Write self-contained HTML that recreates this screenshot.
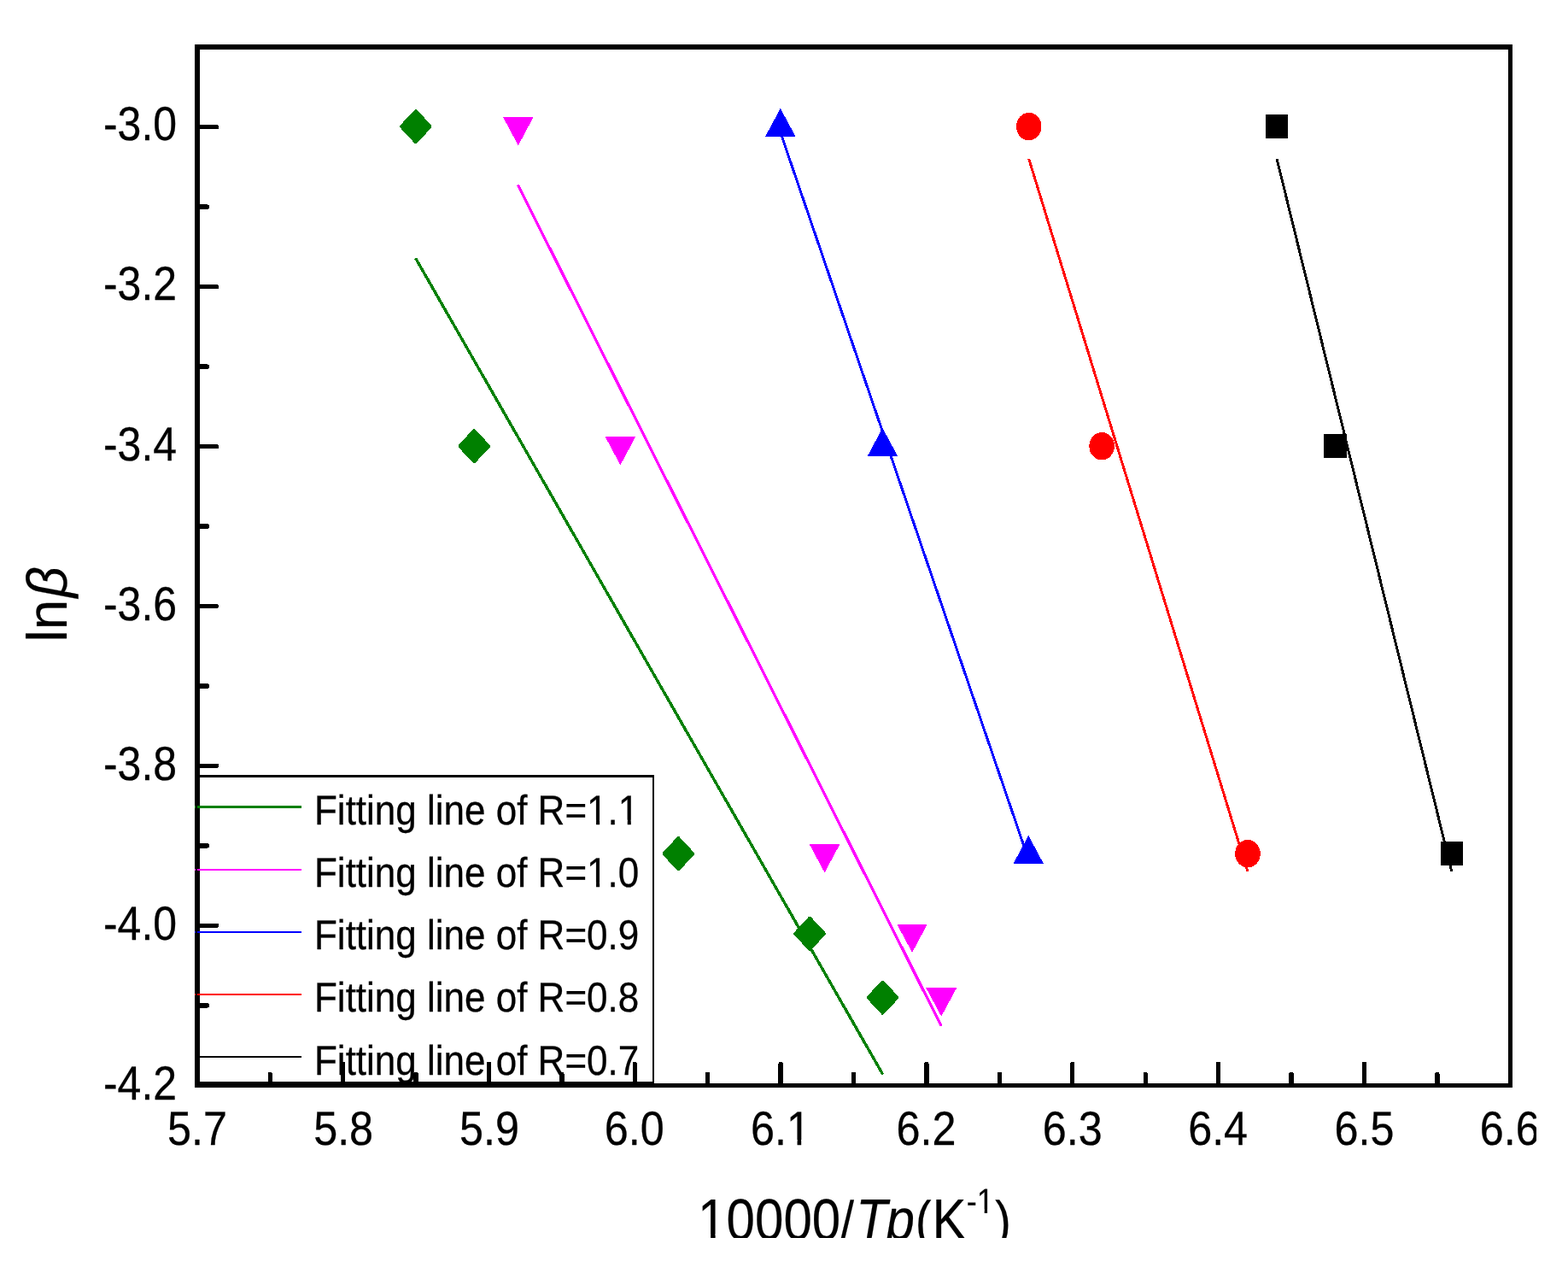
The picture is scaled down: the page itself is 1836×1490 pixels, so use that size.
<!DOCTYPE html>
<html lang="en"><head><meta charset="utf-8"><title>lnβ versus 10000/Tp</title>
<style>html,body{margin:0;padding:0;background:#fff}body{width:1836px;height:1490px;overflow:hidden}svg{display:block}text{font-family:"Liberation Sans",sans-serif;fill:#000;stroke:#000;stroke-linejoin:round;text-rendering:geometricPrecision}</style>
</head><body>
<svg width="1836" height="1490" viewBox="0 0 1836 1490">
<rect width="1836" height="1490" fill="#ffffff"/>
<g fill="none" stroke-linecap="butt" shape-rendering="crispEdges">
<line x1="486.70" y1="302.30" x2="1033.70" y2="1257.60" stroke="#008000" stroke-width="3.4"/>
<line x1="606.40" y1="216.50" x2="1102.20" y2="1200.90" stroke="#ff00ff" stroke-width="3.3"/>
<line x1="911.50" y1="148.10" x2="1202.00" y2="999.20" stroke="#0000ff" stroke-width="2.95"/>
<line x1="1204.70" y1="186.00" x2="1460.80" y2="1019.80" stroke="#ff0000" stroke-width="2.95"/>
<line x1="1495.10" y1="186.00" x2="1699.80" y2="1019.80" stroke="#000000" stroke-width="2.95"/>
</g>
<g shape-rendering="crispEdges">
<rect x="1481.99" y="134.00" width="26.3" height="28.2" fill="#000000"/>
<rect x="1550.32" y="508.12" width="26.3" height="28.2" fill="#000000"/>
<rect x="1686.99" y="985.12" width="26.3" height="28.2" fill="#000000"/>
<ellipse cx="1204.73" cy="148.10" rx="14.8" ry="16.2" fill="#ff0000"/>
<ellipse cx="1290.15" cy="522.22" rx="14.8" ry="16.2" fill="#ff0000"/>
<ellipse cx="1460.98" cy="999.22" rx="14.8" ry="16.2" fill="#ff0000"/>
<polygon points="913.82,126.75 931.67,160.05 895.97,160.05" fill="#0000ff"/>
<polygon points="1033.40,500.87 1051.25,534.17 1015.55,534.17" fill="#0000ff"/>
<polygon points="1204.23,977.87 1222.08,1011.17 1186.38,1011.17" fill="#0000ff"/>
<polygon points="606.83,170.30 624.68,137.00 588.98,137.00" fill="#ff00ff"/>
<polygon points="726.41,544.42 744.26,511.12 708.56,511.12" fill="#ff00ff"/>
<polygon points="965.57,1021.42 983.42,988.12 947.72,988.12" fill="#ff00ff"/>
<polygon points="1068.07,1114.95 1085.92,1081.65 1050.22,1081.65" fill="#ff00ff"/>
<polygon points="1102.23,1189.78 1120.08,1156.48 1084.38,1156.48" fill="#ff00ff"/>
<polygon points="485.94,128.07 487.74,128.07 505.49,147.13 505.49,149.07 487.74,168.13 485.94,168.13 468.19,149.07 468.19,147.13" fill="#008000"/>
<polygon points="554.28,502.19 556.08,502.19 573.83,521.25 573.83,523.19 556.08,542.25 554.28,542.25 536.53,523.19 536.53,521.25" fill="#008000"/>
<polygon points="793.44,979.19 795.24,979.19 812.99,998.26 812.99,1000.19 795.24,1019.26 793.44,1019.26 775.69,1000.19 775.69,998.26" fill="#008000"/>
<polygon points="947.19,1072.72 948.99,1072.72 966.74,1091.79 966.74,1093.72 948.99,1112.79 947.19,1112.79 929.44,1093.72 929.44,1091.79" fill="#008000"/>
<polygon points="1032.60,1147.54 1034.40,1147.54 1052.15,1166.61 1052.15,1168.54 1034.40,1187.61 1032.60,1187.61 1014.85,1168.54 1014.85,1166.61" fill="#008000"/>
</g>
<g font-size="48.8" stroke-width="0.3">
<text transform="translate(368.0,964.7) scale(0.9015,1)">Fitting line of R=1.1</text>
<text transform="translate(368.0,1037.8) scale(0.9015,1)">Fitting line of R=1.0</text>
<text transform="translate(368.0,1110.8) scale(0.9015,1)">Fitting line of R=0.9</text>
<text transform="translate(368.0,1184.1) scale(0.9015,1)">Fitting line of R=0.8</text>
<text transform="translate(368.0,1257.6) scale(0.9015,1)">Fitting line of R=0.7</text>
</g>
<g fill="#000" shape-rendering="crispEdges">
<rect x="227.97" y="52.00" width="6.05" height="1220.84"/>
<rect x="1765.95" y="52.00" width="5.05" height="1220.84"/>
<rect x="227.97" y="52.00" width="1543.03" height="5.88"/>
<rect x="227.97" y="1268.04" width="1543.03" height="4.80"/>
<rect x="231.02" y="145.95" width="24.88" height="5.30" rx="1.7" ry="2"/>
<rect x="231.02" y="239.44" width="13.88" height="5.30" rx="1.7" ry="2"/>
<rect x="231.02" y="332.92" width="24.88" height="5.30" rx="1.7" ry="2"/>
<rect x="231.02" y="426.41" width="13.88" height="5.30" rx="1.7" ry="2"/>
<rect x="231.02" y="519.89" width="24.88" height="5.30" rx="1.7" ry="2"/>
<rect x="231.02" y="613.38" width="13.88" height="5.30" rx="1.7" ry="2"/>
<rect x="231.02" y="706.87" width="24.88" height="5.30" rx="1.7" ry="2"/>
<rect x="231.02" y="800.35" width="13.88" height="5.30" rx="1.7" ry="2"/>
<rect x="231.02" y="893.84" width="24.88" height="5.30" rx="1.7" ry="2"/>
<rect x="231.02" y="987.32" width="13.88" height="5.30" rx="1.7" ry="2"/>
<rect x="231.02" y="1080.81" width="24.88" height="5.30" rx="1.7" ry="2"/>
<rect x="231.02" y="1174.30" width="13.88" height="5.30" rx="1.7" ry="2"/>
<rect x="313.51" y="1255.00" width="5.40" height="16.04" rx="2" ry="1.9"/>
<rect x="398.93" y="1243.00" width="5.40" height="28.04" rx="2" ry="1.9"/>
<rect x="484.35" y="1255.00" width="5.40" height="16.04" rx="2" ry="1.9"/>
<rect x="569.76" y="1243.00" width="5.40" height="28.04" rx="2" ry="1.9"/>
<rect x="655.17" y="1255.00" width="5.40" height="16.04" rx="2" ry="1.9"/>
<rect x="740.59" y="1243.00" width="5.40" height="28.04" rx="2" ry="1.9"/>
<rect x="826.00" y="1255.00" width="5.40" height="16.04" rx="2" ry="1.9"/>
<rect x="911.42" y="1243.00" width="5.40" height="28.04" rx="2" ry="1.9"/>
<rect x="996.84" y="1255.00" width="5.40" height="16.04" rx="2" ry="1.9"/>
<rect x="1082.25" y="1243.00" width="5.40" height="28.04" rx="2" ry="1.9"/>
<rect x="1167.66" y="1255.00" width="5.40" height="16.04" rx="2" ry="1.9"/>
<rect x="1253.08" y="1243.00" width="5.40" height="28.04" rx="2" ry="1.9"/>
<rect x="1338.50" y="1255.00" width="5.40" height="16.04" rx="2" ry="1.9"/>
<rect x="1423.91" y="1243.00" width="5.40" height="28.04" rx="2" ry="1.9"/>
<rect x="1509.32" y="1255.00" width="5.40" height="16.04" rx="2" ry="1.9"/>
<rect x="1594.74" y="1243.00" width="5.40" height="28.04" rx="2" ry="1.9"/>
<rect x="1680.16" y="1255.00" width="5.40" height="16.04" rx="2" ry="1.9"/>
</g>
<g shape-rendering="crispEdges">
<rect x="227.97" y="943.00" width="124.83" height="2.90" fill="#008000"/>
<rect x="227.97" y="1016.95" width="124.83" height="2.00" fill="#ff00ff"/>
<rect x="227.97" y="1089.90" width="124.83" height="2.00" fill="#0000ff"/>
<rect x="227.97" y="1162.90" width="124.83" height="2.00" fill="#ff0000"/>
<rect x="227.97" y="1236.05" width="124.83" height="1.90" fill="#000000"/>
<g fill="#000">
<rect x="229.05" y="907.00" width="1.85" height="361.85"/>
<rect x="764.00" y="907.00" width="1.95" height="361.85"/>
<rect x="229.05" y="907.00" width="536.90" height="2.85"/>
<rect x="229.05" y="1266.00" width="536.90" height="2.85"/>
</g></g>
<g font-size="56.0" text-anchor="end" stroke-width="0.3">
<text transform="translate(207.1,163.60) scale(0.8925,1)">-3.0</text>
<text transform="translate(207.1,351.17) scale(0.8925,1)">-3.2</text>
<text transform="translate(207.1,538.74) scale(0.8925,1)">-3.4</text>
<text transform="translate(207.1,725.82) scale(0.8925,1)">-3.6</text>
<text transform="translate(207.1,912.89) scale(0.8925,1)">-3.8</text>
<text transform="translate(207.1,1099.96) scale(0.8925,1)">-4.0</text>
<text transform="translate(207.1,1287.13) scale(0.8925,1)">-4.2</text>
</g>
<g font-size="56.0" text-anchor="middle" stroke-width="0.3">
<text transform="translate(231.00,1339.6) scale(0.898,1)">5.7</text>
<text transform="translate(402.13,1339.6) scale(0.898,1)">5.8</text>
<text transform="translate(573.06,1339.6) scale(0.898,1)">5.9</text>
<text transform="translate(742.69,1339.6) scale(0.898,1)">6.0</text>
<text transform="translate(914.02,1339.6) scale(0.898,1)">6.1</text>
<text transform="translate(1084.45,1339.6) scale(0.898,1)">6.2</text>
<text transform="translate(1255.68,1339.6) scale(0.898,1)">6.3</text>
<text transform="translate(1426.11,1339.6) scale(0.898,1)">6.4</text>
<text transform="translate(1597.44,1339.6) scale(0.898,1)">6.5</text>
<text transform="translate(1767.67,1339.6) scale(0.898,1)">6.6</text>
</g>
<text transform="translate(817.1,1451.0) scale(0.88,1)" font-size="68.3" stroke-width="0.2">10000<tspan font-size="64.54" dx="0">/</tspan><tspan font-style="italic" dx="2.6">T</tspan><tspan font-style="italic" dx="-1.7">p</tspan><tspan font-size="64.54" dx="1.0">(</tspan><tspan dx="1.0">K</tspan><tspan font-size="40.98" dy="-31.0" dx="0">-1</tspan><tspan font-size="64.54" dy="31.0" dx="1.3">)</tspan></text>
<text transform="translate(78.0,751.4) rotate(-90) scale(0.963,1)" font-size="66.2" stroke-width="0.2">ln<tspan font-style="italic" dx="2.3">β</tspan></text>
<g fill="#ffffff"><rect x="688.62" y="959.65" width="9.43" height="6.85"/><rect x="702.12" y="959.65" width="9.09" height="6.85"/><rect x="725.30" y="959.65" width="9.43" height="6.85"/><rect x="738.80" y="959.65" width="9.09" height="6.85"/><rect x="688.62" y="1032.75" width="9.43" height="6.85"/><rect x="702.12" y="1032.75" width="9.09" height="6.85"/><rect x="923.04" y="1334.01" width="10.52" height="7.39"/><rect x="938.19" y="1334.01" width="10.13" height="7.39"/><rect x="819.92" y="1444.50" width="12.21" height="8.30"/><rect x="837.61" y="1444.50" width="11.74" height="8.30"/><rect x="1144.71" y="1415.54" width="8.00" height="6.26"/><rect x="1156.07" y="1415.54" width="7.71" height="6.26"/></g>
<rect x="1799.0" y="0" width="37.0" height="1490" fill="#ffffff"/>
<rect x="0" y="1449.0" width="1836" height="41.0" fill="#ffffff"/>
</svg>
</body></html>
